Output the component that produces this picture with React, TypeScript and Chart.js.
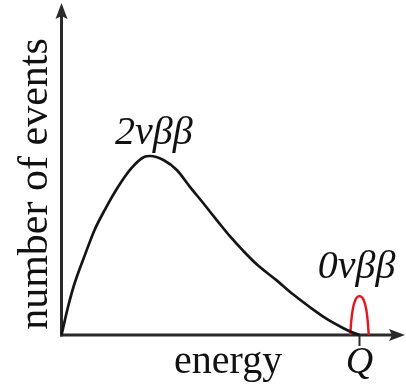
import React, { useEffect, useRef, useState } from "react";
import { Chart, registerables } from "chart.js";

Chart.register(...registerables);

// 2νββ continuous spectrum (energy normalised to Q, counts normalised to peak)
const energy2nu = [0, 0.022, 0.044, 0.078, 0.111, 0.145, 0.19, 0.234, 0.279, 0.297, 0.342, 0.387, 0.431, 0.476, 0.521, 0.565, 0.61, 0.655, 0.722, 0.778, 0.834, 0.89, 0.946, 0.975, 1.0];
const counts2nu = [0, 0.158, 0.289, 0.445, 0.587, 0.698, 0.828, 0.931, 0.996, 1.0, 0.978, 0.922, 0.828, 0.736, 0.642, 0.552, 0.47, 0.395, 0.305, 0.226, 0.155, 0.09, 0.038, 0.015, 0];

// 0νββ peak at Q
const energy0nu = [0.969, 0.972, 0.977, 0.986, 1.0, 1.014, 1.023, 1.028, 1.031];
const counts0nu = [0, 0.07, 0.14, 0.195, 0.217, 0.195, 0.14, 0.07, 0];

// tick labels
const xTickValues = [1];
const xTickLabels = ["Q"];

// labels
const curveLabels = ["2νββ", "0νββ"];
const curveLabelX = [0.31, 0.99];
const curveLabelY = [1.067, 0.313];
const xTitle = "energy";
const yTitle = "number of events";

const X_MAX = 1.1527;
const Y_MAX = 1.855;

const FAMILY = '"Liberation Serif", "Times New Roman", Tinos, serif';

type Lbl = { text: string; x: number; y: number; italic: boolean; size: number; rotate: boolean };

const axesPlugin = {
  id: "axesArrows",
  beforeDatasetsDraw(chart: any) {
    const { ctx, scales } = chart;
    const xs = scales.x;
    const ys = scales.y;
    const x0 = xs.getPixelForValue(0);
    const y0 = ys.getPixelForValue(0);
    const xEnd = xs.getPixelForValue(X_MAX);
    const yEnd = ys.getPixelForValue(Y_MAX);
    ctx.save();
    ctx.strokeStyle = "#2a2a2a";
    ctx.fillStyle = "#2a2a2a";
    ctx.lineWidth = 3;
    ctx.beginPath();
    ctx.moveTo(x0, y0 + 1.5);
    ctx.lineTo(x0, yEnd + 10);
    ctx.stroke();
    ctx.beginPath();
    ctx.moveTo(x0 - 1.5, y0);
    ctx.lineTo(xEnd - 10, y0);
    ctx.stroke();
    ctx.beginPath();
    ctx.moveTo(x0, yEnd);
    ctx.lineTo(x0 - 6, yEnd + 16);
    ctx.lineTo(x0, yEnd + 13);
    ctx.lineTo(x0 + 6, yEnd + 16);
    ctx.closePath();
    ctx.fill();
    ctx.beginPath();
    ctx.moveTo(xEnd, y0);
    ctx.lineTo(xEnd - 16, y0 - 6);
    ctx.lineTo(xEnd - 13, y0);
    ctx.lineTo(xEnd - 16, y0 + 6);
    ctx.closePath();
    ctx.fill();
    ctx.lineWidth = 2;
    xTickValues.forEach((v) => {
      const px = xs.getPixelForValue(v);
      ctx.beginPath();
      ctx.moveTo(px, y0);
      ctx.lineTo(px, y0 + 11);
      ctx.stroke();
    });
    ctx.restore();
  },
};

export default function App() {
  const ref = useRef<HTMLCanvasElement>(null);
  const [labels, setLabels] = useState<Lbl[]>([]);
  useEffect(() => {
    document.body.style.margin = "0";
    const canvas = ref.current;
    if (!canvas) return;
    const chart = new Chart(canvas, {
      type: "scatter",
      data: {
        datasets: [
          {
            data: energy2nu.map((x, i) => ({ x, y: counts2nu[i] })),
            showLine: true,
            borderColor: "#151515",
            borderWidth: 2.7,
            pointRadius: 0,
            cubicInterpolationMode: "monotone",
            clip: false,
          } as any,
          {
            data: energy0nu.map((x, i) => ({ x, y: counts0nu[i] })),
            showLine: true,
            borderColor: "#e8141c",
            borderWidth: 2.4,
            pointRadius: 0,
            cubicInterpolationMode: "monotone",
            clip: false,
          } as any,
        ],
      },
      options: {
        responsive: false,
        animation: false,
        events: [],
        layout: { padding: { left: 61.5, right: 1, top: 3, bottom: 50 } },
        plugins: { legend: { display: false }, tooltip: { enabled: false } },
        scales: {
          x: { type: "linear", min: 0, max: X_MAX, display: false },
          y: { type: "linear", min: 0, max: Y_MAX, display: false },
        },
      },
      plugins: [axesPlugin],
    });
    const xs: any = chart.scales.x;
    const ys: any = chart.scales.y;
    const y0 = ys.getPixelForValue(0);
    const out: Lbl[] = [];
    curveLabels.forEach((t, i) =>
      out.push({ text: t, x: xs.getPixelForValue(curveLabelX[i]), y: ys.getPixelForValue(curveLabelY[i]), italic: true, size: 40, rotate: false })
    );
    xTickValues.forEach((v, i) =>
      out.push({ text: xTickLabels[i], x: xs.getPixelForValue(v), y: y0 + 38, italic: true, size: 38, rotate: false })
    );
    out.push({ text: xTitle, x: xs.getPixelForValue(0.559), y: y0 + 38, italic: false, size: 40, rotate: false });
    out.push({ text: yTitle, x: xs.getPixelForValue(-0.049), y: ys.getPixelForValue(0.844), italic: false, size: 42, rotate: true });
    setLabels(out);
    return () => chart.destroy();
  }, []);
  return (
    <div style={{ position: "absolute", left: 0, top: 0, width: 406, height: 385, background: "#fff", overflow: "hidden" }}>
      <canvas ref={ref} width={406} height={385} style={{ display: "block" }} />
      {labels.map((l, i) => (
        <div
          key={i}
          style={{
            position: "absolute",
            left: l.x,
            top: l.y,
            width: 0,
            height: 0,
            transformOrigin: "0 0",
            transform: l.rotate ? "rotate(-90deg)" : "none",
          }}
        >
          <span
            style={{
              position: "absolute",
              left: 0,
              top: -0.3375 * l.size,
              display: "block",
              transform: "translateX(-50%)",
              whiteSpace: "nowrap",
              fontFamily: FAMILY,
              fontStyle: l.italic ? "italic" : "normal",
              fontSize: l.size,
              lineHeight: 0,
              color: "#111",
            }}
          >
            {l.text}
          </span>
        </div>
      ))}
    </div>
  );
}
